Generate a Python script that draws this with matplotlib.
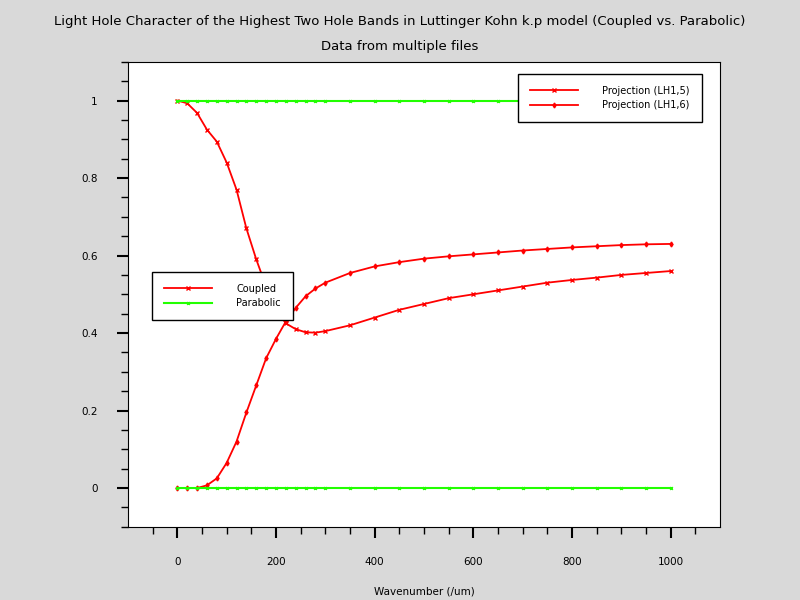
import numpy as np
import matplotlib
matplotlib.use('Agg')
import matplotlib.pyplot as plt

# wavenumber grid (/um)
k = [0, 20, 40, 60, 80, 100, 120, 140, 160, 180, 200, 220, 240, 260, 280, 300,
     350, 400, 450, 500, 550, 600, 650, 700, 750, 800, 850, 900, 950, 1000]

# projection LH1,5 (starts at 1)
lh15 = [1.0, 0.993, 0.968, 0.925, 0.894, 0.84, 0.77, 0.67, 0.59, 0.52, 0.46, 0.425,
        0.41, 0.402, 0.401, 0.405, 0.42, 0.44, 0.46, 0.475, 0.49, 0.50, 0.51, 0.52,
        0.53, 0.537, 0.543, 0.55, 0.555, 0.56]

# projection LH1,6 (starts at 0)
lh16 = [0.0, 0.0, 0.0, 0.007, 0.025, 0.065, 0.12, 0.195, 0.265, 0.335, 0.385, 0.43,
        0.465, 0.495, 0.515, 0.53, 0.555, 0.572, 0.583, 0.592, 0.598, 0.603, 0.608,
        0.613, 0.617, 0.621, 0.624, 0.627, 0.629, 0.63]

para_hi = [1.0] * len(k)
para_lo = [0.0] * len(k)

fig = plt.figure(figsize=(8, 6), dpi=100, facecolor='#d9d9d9')
ax = fig.add_axes([0.16, 0.122, 0.74, 0.775])

red = '#ff0000'
green = '#22ff00'
l1, = ax.plot(k, lh15, color=red, lw=1.3, marker='x', ms=3)
l2, = ax.plot(k, lh16, color=red, lw=1.3, marker='d', ms=2.5)
g1, = ax.plot(k, para_hi, color=green, lw=1.5, marker='x', ms=2)
ax.plot(k, para_lo, color=green, lw=1.5, marker='x', ms=2)

ax.set_xlim(-100, 1100)
ax.set_ylim(-0.1, 1.1)
ax.set_xticks([0, 200, 400, 600, 800, 1000])
ax.set_xticks(np.arange(-50, 1100, 50), minor=True)
ax.set_yticks([0, 0.2, 0.4, 0.6, 0.8, 1])
ax.set_yticklabels(['0', '0.2', '0.4', '0.6', '0.8', '1'])
ax.set_yticks(np.arange(-0.1, 1.11, 0.05), minor=True)
ax.tick_params(which='major', direction='out', length=8, width=1.5, labelsize=7.5, pad=14)
ax.tick_params(which='minor', direction='out', length=5, width=1)

ax.set_xlabel('Wavenumber (/um)', fontsize=7.5, labelpad=14)
fig.text(0.5, 0.965, 'Light Hole Character of the Highest Two Hole Bands in Luttinger Kohn k.p model (Coupled vs. Parabolic)',
         ha='center', va='center', fontsize=9.5)
fig.text(0.5, 0.923, 'Data from multiple files', ha='center', va='center', fontsize=9.5)

leg1 = ax.legend([l1, l2], ['Projection (LH1,5)', 'Projection (LH1,6)'], loc='upper left',
                 bbox_to_anchor=(513 / 800, 1 - 69 / 600), bbox_transform=fig.transFigure,
                 fancybox=False, framealpha=1, edgecolor='black', fontsize=7,
                 handlelength=5, handletextpad=2.5, borderpad=1.2)
ax.add_artist(leg1)
ax.legend([l1, g1], ['Coupled', 'Parabolic'], loc='upper left',
          bbox_to_anchor=(147 / 800, 1 - 267 / 600), bbox_transform=fig.transFigure,
          fancybox=False, framealpha=1, edgecolor='black', fontsize=7,
          handlelength=5, handletextpad=2.5, borderpad=1.2)

fig.savefig('out.png', facecolor=fig.get_facecolor())
